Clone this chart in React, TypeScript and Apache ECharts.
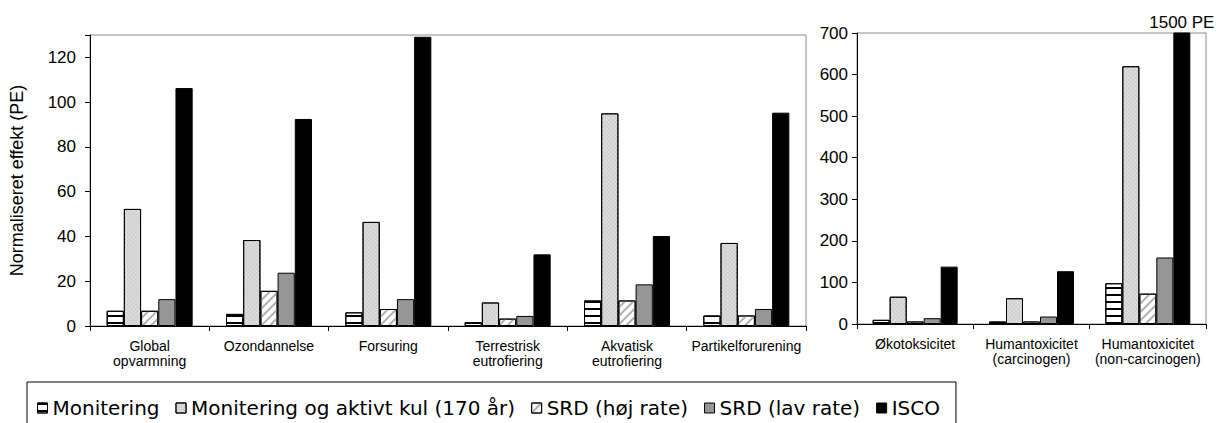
import React, { useEffect, useRef } from "react";
import * as echarts from "echarts";

const categoriesLeft = [
  "Global\nopvarmning",
  "Ozondannelse",
  "Forsuring",
  "Terrestrisk\neutrofiering",
  "Akvatisk\neutrofiering",
  "Partikelforurening",
];
const categoriesRight = [
  "Økotoksicitet",
  "Humantoxicitet\n(carcinogen)",
  "Humantoxicitet\n(non-carcinogen)",
];
const seriesNames = [
  "Monitering",
  "Monitering og aktivt kul (170 år)",
  "SRD (høj rate)",
  "SRD (lav rate)",
  "ISCO",
];
// Left panel values (PE)
const moniteringLeft = [6.8, 5.4, 6.1, 1.7, 11.4, 4.7];
const aktivtKulLeft = [52.3, 38.4, 46.5, 10.5, 95, 37.1];
const srdHojLeft = [6.8, 15.7, 7.6, 3.3, 11.4, 4.7];
const srdLavLeft = [12, 23.8, 12, 4.5, 18.6, 7.6];
const iscoLeft = [106.3, 92.5, 129.2, 32, 40.2, 95.3];
// Right panel values (PE)
const moniteringRight = [10, 6, 98];
const aktivtKulRight = [65.6, 62, 620];
const srdHojRight = [6, 6, 73];
const srdLavRight = [14, 18, 160];
const iscoRight = [138, 127, 1500];
const leftTicks = [0, 20, 40, 60, 80, 100, 120];
const rightTicks = [0, 100, 200, 300, 400, 500, 600, 700];

const styles: any[] = [
  {
    color: "#ffffff",
    borderColor: "#000",
    borderWidth: 1,
    decal: {
      symbol: "rect",
      symbolSize: 1,
      dashArrayX: [1, 0],
      dashArrayY: [1.3, 4.7],
      color: "#000",
      rotation: 0,
    },
  },
  {
    color: "#cfcfcf",
    borderColor: "#000",
    borderWidth: 1,
    decal: {
      symbol: "rect",
      symbolSize: 0.7,
      dashArrayX: [2, 1],
      dashArrayY: [2, 1],
      color: "#ececec",
      rotation: Math.PI / 4,
    },
  },
  {
    color: "#ffffff",
    borderColor: "#000",
    borderWidth: 1,
    decal: {
      symbol: "rect",
      symbolSize: 1,
      dashArrayX: [1, 0],
      dashArrayY: [1.3, 3.2],
      color: "#b0b0b0",
      rotation: -Math.PI / 4,
    },
  },
  { color: "#969696", borderColor: "#000", borderWidth: 1 },
  { color: "#000000", borderColor: "#000", borderWidth: 1 },
];

export default function App() {
  const ref = useRef<HTMLDivElement>(null);
  useEffect(() => {
    if (!ref.current) return;
    const chart = echarts.init(ref.current, undefined, { renderer: "svg" });
    const leftData = [moniteringLeft, aktivtKulLeft, srdHojLeft, srdLavLeft, iscoLeft];
    const rightData = [moniteringRight, aktivtKulRight, srdHojRight, srdLavRight, iscoRight];
    const font = "Liberation Sans, Arial, sans-serif";
    const series: any[] = [];
    seriesNames.forEach((name, i) => {
      series.push({
        type: "bar",
        name,
        xAxisIndex: 0,
        yAxisIndex: 0,
        data: leftData[i],
        barWidth: 17.2,
        barGap: "0%",
        itemStyle: styles[i],
      });
    });
    seriesNames.forEach((name, i) => {
      series.push({
        type: "bar",
        name,
        xAxisIndex: 1,
        yAxisIndex: 1,
        barWidth: 17,
        barGap: "0%",
        itemStyle: styles[i],
        data: rightData[i].map((v) =>
          i === 4 && v > 700
            ? {
                value: v,
                label: {
                  show: true,
                  position: "top",
                  distance: 2,
                  formatter: v + " PE",
                  fontFamily: font,
                  fontSize: 17,
                  color: "#000",
                },
              }
            : v
        ),
      });
    });

    const catAxis = (idx: number, data: string[]) => ({
      type: "category",
      gridIndex: idx,
      data,
      axisLine: { show: true, lineStyle: { color: "#000", width: 1 } },
      axisTick: { show: true, length: 5, lineStyle: { color: "#000" } },
      axisLabel: {
        interval: 0,
        margin: 12,
        fontFamily: font,
        fontSize: 14,
        lineHeight: 15,
        color: "#000",
      },
    });
    const valAxis = (idx: number, max: number, interval: number, ticks: number[], margin: number, extra: any) => ({
      type: "value",
      gridIndex: idx,
      min: 0,
      max,
      interval,
      splitLine: { show: false },
      axisLine: { show: true, lineStyle: { color: "#000", width: 1 } },
      axisTick: { show: true, length: 5, lineStyle: { color: "#000" } },
      axisLabel: {
        margin,
        fontFamily: font,
        fontSize: 17,
        color: "#000",
        formatter: (v: number) => (ticks.indexOf(v) >= 0 ? String(v) : ""),
      },
      ...extra,
    });

    chart.setOption({
      animation: false,
      backgroundColor: "#fff",
      grid: [
        { left: 83, top: 35, width: 723, height: 291, show: true, borderColor: "#8c8c8c", borderWidth: 1 },
        { left: 857, top: 33, width: 349, height: 291, show: true, borderColor: "#8c8c8c", borderWidth: 1 },
      ],
      xAxis: [catAxis(0, categoriesLeft), catAxis(1, categoriesRight)],
      yAxis: [
        valAxis(0, 130, 20, leftTicks, 14, {
          name: "Normaliseret effekt (PE)",
          nameLocation: "middle",
          nameRotate: 90,
          nameGap: 64,
          nameTextStyle: { fontFamily: font, fontSize: 18, color: "#000" },
        }),
        valAxis(1, 700, 100, rightTicks, 9, {}),
      ],
      legend: {
        left: 27,
        top: 382,
        data: seriesNames.map((n) => ({ name: n, icon: "rect" })),
        itemWidth: 10,
        itemHeight: 10,
        itemGap: 16,
        padding: [16, 16, 20, 10],
        borderColor: "#000",
        borderWidth: 1,
        backgroundColor: "#fff",
        itemStyle: { borderColor: "#000", borderWidth: 1 },
        textStyle: { fontFamily: "DejaVu Sans, sans-serif", fontSize: 20, color: "#000" },
      },
      series,
    });
    return () => chart.dispose();
  }, []);
  return (
    <div
      ref={ref}
      style={{ position: "absolute", left: 0, top: 0, width: 1220, height: 423 }}
    />
  );
}
